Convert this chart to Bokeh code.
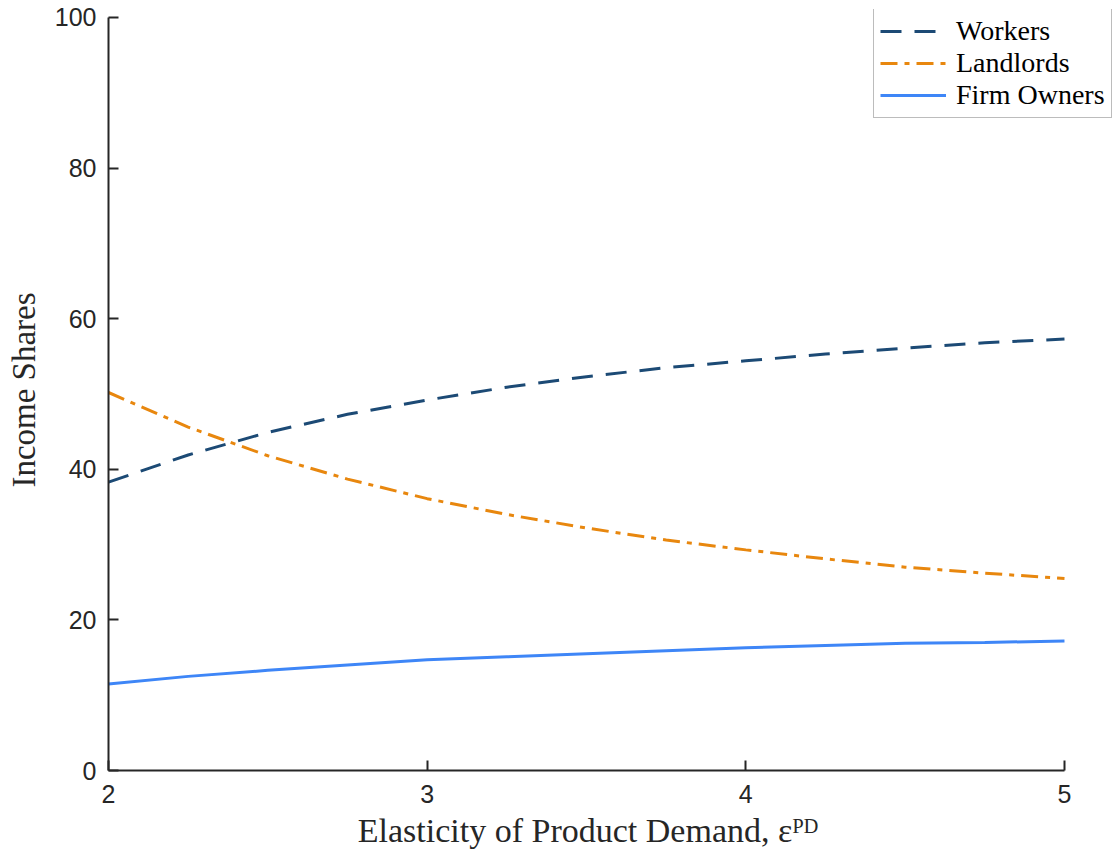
from bokeh.plotting import figure
from bokeh.models import Range1d, FixedTicker, Legend, LegendItem
from bokeh.embed import file_html
from bokeh.resources import INLINE

# Data
elasticity = [2.0, 2.25, 2.5, 2.75, 3.0, 3.25, 3.5, 3.75, 4.0, 4.25, 4.5, 4.75, 5.0]
workers = [38.3, 41.9, 44.9, 47.3, 49.2, 50.9, 52.3, 53.5, 54.4, 55.3, 56.1, 56.8, 57.3]
landlords = [50.2, 45.6, 41.8, 38.7, 36.1, 34.0, 32.2, 30.6, 29.3, 28.1, 27.0, 26.2, 25.5]
firm_owners = [11.5, 12.5, 13.3, 14.0, 14.7, 15.1, 15.5, 15.9, 16.3, 16.6, 16.9, 17.0, 17.2]
series_names = ["Workers", "Landlords", "Firm Owners"]
x_ticks = [2, 3, 4, 5]
y_ticks = [0, 20, 40, 60, 80, 100]

# frame extends past x=5 and y=100 so the legend can overhang as in the reference
p = figure(
    frame_width=1010, frame_height=761,
    min_border_left=108, min_border_right=0, min_border_top=9, min_border_bottom=80,
    x_range=Range1d(2, 5.1695), y_range=Range1d(0, 101.06),
    output_backend="svg", toolbar_location=None,
)
p.outline_line_color = None
p.xgrid.visible = False
p.ygrid.visible = False

for ax in (p.xaxis[0], p.yaxis[0]):
    ax.axis_line_color = "#262626"
    ax.axis_line_width = 2
    ax.major_tick_line_color = "#262626"
    ax.major_tick_line_width = 2
    ax.major_tick_in = 10
    ax.major_tick_out = 0
    ax.minor_tick_line_color = None
    ax.major_label_text_font = "Liberation Sans"
    ax.major_label_text_font_size = "25px"
    ax.major_label_text_color = "#262626"
    ax.axis_label_text_font = "Liberation Serif"
    ax.axis_label_text_font_style = "normal"
    ax.axis_label_text_color = "#262626"

p.xaxis.bounds = (2, 5)
p.yaxis.bounds = (0, 100)
p.xaxis.ticker = FixedTicker(ticks=x_ticks)
p.yaxis.ticker = FixedTicker(ticks=y_ticks)
p.xaxis.major_label_standoff = 14
p.yaxis.major_label_standoff = 12
p.xaxis.axis_label = "Elasticity of Product Demand, \u03b5\u1d3e\u1d30" + "\u00a0" * 6
p.yaxis.axis_label = "Income Shares"
p.xaxis.axis_label_text_font_size = "34px"
p.yaxis.axis_label_text_font_size = "33px"
p.xaxis.axis_label_standoff = 6
p.yaxis.axis_label_standoff = 10

r1 = p.line(elasticity, workers, line_color="#1C4A75", line_width=3, line_dash="21 13")
r2 = p.line(elasticity, landlords, line_color="#E8870E", line_width=3, line_dash="17 7 5 7")
r3 = p.line(elasticity, firm_owners, line_color="#3E86F7", line_width=3)

legend = Legend(
    items=[LegendItem(label=series_names[0], renderers=[r1]),
           LegendItem(label=series_names[1], renderers=[r2]),
           LegendItem(label=series_names[2], renderers=[r3])],
    location=(765, 652),
    label_text_font="Liberation Serif",
    label_text_font_size="28px",
    label_text_color="#000000",
    label_height=26, glyph_height=26, glyph_width=66,
    label_standoff=10, spacing=0, padding=6, margin=0,
    border_line_color="#7a7a7a", border_line_width=1,
    background_fill_color="white", background_fill_alpha=1.0,
)
p.add_layout(legend, "center")

open("out.html", "w").write(file_html(p, INLINE))
